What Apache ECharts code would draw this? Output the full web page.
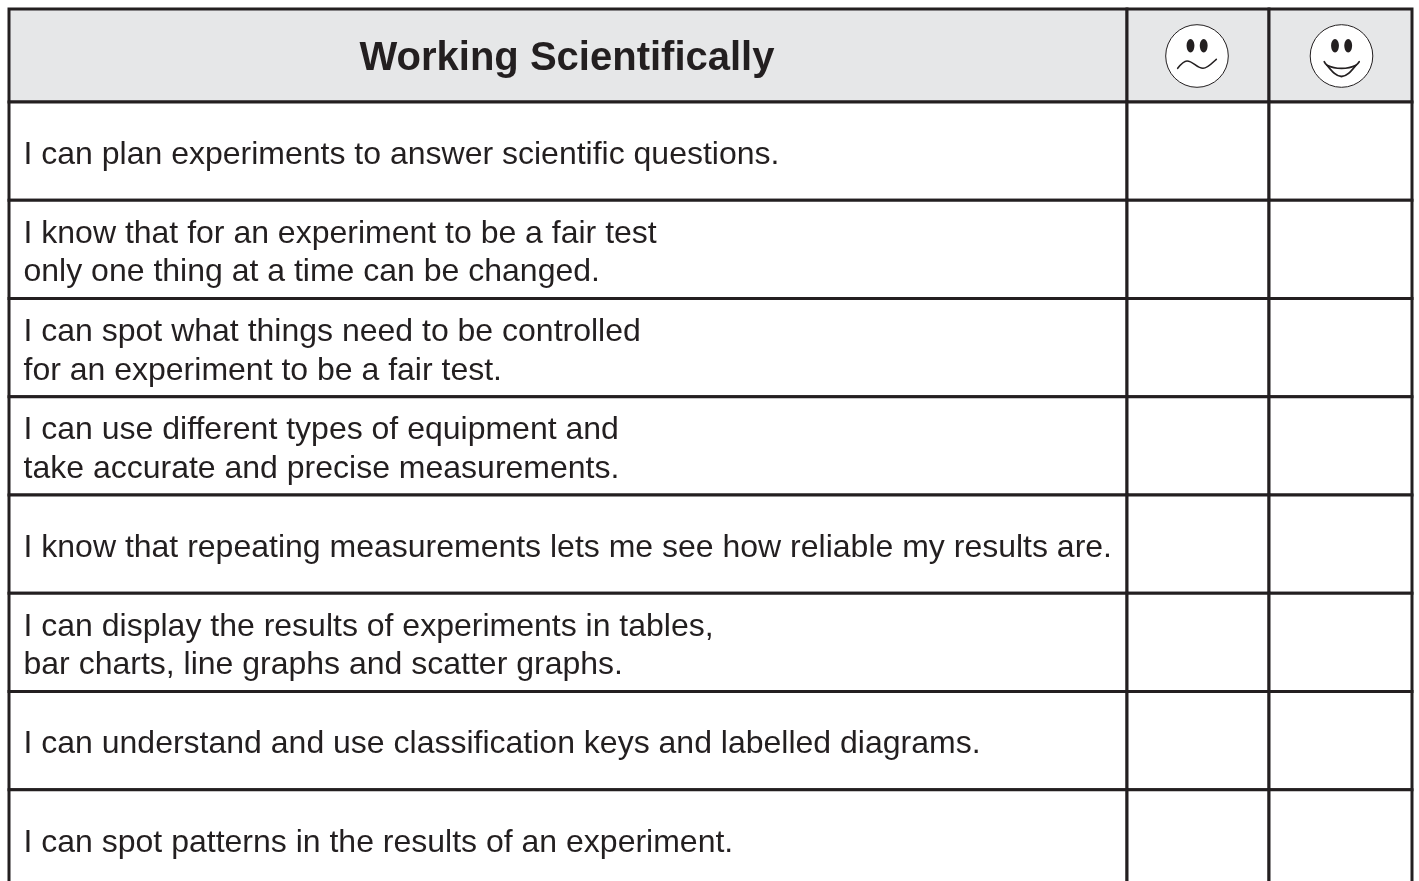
<!DOCTYPE html>
<html>
<head>
<meta charset="utf-8">
<title>Working Scientifically</title>
<style>
    html, body { margin: 0; padding: 0; background: #fff; }
    #main { width: 1419px; height: 881px; overflow: hidden; }
</style>
<script src="https://cdn.jsdelivr.net/npm/echarts@6/dist/echarts.min.js"></script>
</head>
<body>
<div id="main"></div>
<script>
// table content
const title = "Working Scientifically"
const statements = [
    "I can plan experiments to answer scientific questions.",
    "I know that for an experiment to be a fair test\nonly one thing at a time can be changed.",
    "I can spot what things need to be controlled\nfor an experiment to be a fair test.",
    "I can use different types of equipment and\ntake accurate and precise measurements.",
    "I know that repeating measurements lets me see how reliable my results are.",
    "I can display the results of experiments in tables,\nbar charts, line graphs and scatter graphs.",
    "I can understand and use classification keys and labelled diagrams.",
    "I can spot patterns in the results of an experiment."
]
const columns = ["statement", "sad", "happy"]

const FONT = '"Liberation Sans", Arial, sans-serif'
const INK = "#231f20"
const columnEnds = [1118, 1260, 1403]

const lineStyle = { stroke: INK, lineWidth: 3 }

function mouthStroke(pathData, lineWidth) {
    return {
        type: "path",
        shape: { pathData },
        style: { fill: null, stroke: INK, lineWidth, lineCap: "round" }
    }
}

function face(kind, cx, cy) {
    const ink = { fill: INK, stroke: null }
    const children = [
        { type: "circle", shape: { cx: 0, cy: 0, r: 31.3 }, style: { fill: "#fff", stroke: INK, lineWidth: 1 } },
        { type: "ellipse", shape: { cx: -6.5, cy: -10.3, rx: 3.9, ry: 6.7 }, style: ink },
        { type: "ellipse", shape: { cx: 6.7, cy: -10.3, rx: 3.9, ry: 6.7 }, style: ink }
    ]
    if (kind === "sad") {
        children.push(mouthStroke("M-19.3 12.3C-16 8 -13 5 -10 5C-4 5 0 12.3 6 12.3C11 12.3 15 7 19.3 3.3", 1.6))
    } else {
        children.push(mouthStroke("M-17.3 5.7C-16.5 7.5 -15.5 8.5 -14.5 9.2C-6 13.5 6 13.5 14.5 9.2C15.5 8.5 16.5 7.5 17.7 5.7", 1.7))
        children.push(mouthStroke("M-14.5 9.2C-9 16 -5 20.5 0 20.5C5 20.5 9 16 14.5 9.2", 1.8))
    }
    return { type: "group", x: cx, y: cy, children }
}

function cellBox(api) {
    const col = api.value(0)
    const row = api.value(1)
    const x0 = api.coord([col === 0 ? 0 : columnEnds[col - 1], row])[0]
    const x1 = api.coord([columnEnds[col], row])[0]
    const mid = api.coord([0, row])[1]
    const h = api.size([0, 1])[1]
    return { x: x0, y: mid - h / 2, width: x1 - x0, height: h }
}

function renderHeader(params, api) {
    const box = cellBox(api)
    const col = api.value(0)
    const children = [{ type: "rect", shape: box, style: { fill: "#e6e7e8", ...lineStyle } }]
    if (col === 0) {
        children.push({
            type: "text",
            style: {
                text: title,
                x: box.x + box.width / 2 - 1,
                y: box.y + box.height / 2 + 3,
                align: "center",
                verticalAlign: "middle",
                font: `bold 40px ${FONT}`,
                fill: INK
            }
        })
    } else {
        const nudge = col === 1 ? -1 : 1
        children.push(face(columns[col], box.x + box.width / 2 + nudge, box.y + box.height / 2 + 0.5))
    }
    return { type: "group", children }
}

function renderBody(params, api) {
    const box = cellBox(api)
    const col = api.value(0)
    const children = [{ type: "rect", shape: box, style: { fill: "#fff", ...lineStyle } }]
    if (col === 0) {
        children.push({
            type: "text",
            style: {
                text: statements[api.value(1)],
                x: box.x + 14.5,
                y: box.y + box.height / 2 + 4,
                align: "left",
                verticalAlign: "middle",
                font: `32px ${FONT}`,
                lineHeight: 38.5,
                fill: INK
            }
        })
    }
    return { type: "group", children }
}

const bodyCells = []
statements.forEach((s, row) => columns.forEach((c, col) => bodyCells.push([col, row])))

const hiddenAxis = { show: false }

const myChart = echarts.init(document.getElementById("main"), null, { renderer: "canvas" })
myChart.setOption({
    animation: false,
    backgroundColor: "#fff",
    grid: [
        { left: 9, top: 9, width: 1403, height: 93, outerBoundsMode: "none" },
        { left: 9, top: 102, width: 1403, height: 786, outerBoundsMode: "none" }
    ],
    xAxis: [
        { ...hiddenAxis, type: "value", gridIndex: 0, min: 0, max: 1403 },
        { ...hiddenAxis, type: "value", gridIndex: 1, min: 0, max: 1403 }
    ],
    yAxis: [
        { ...hiddenAxis, type: "category", gridIndex: 0, data: [title] },
        { ...hiddenAxis, type: "category", gridIndex: 1, inverse: true, data: statements }
    ],
    series: [
        {
            type: "custom",
            xAxisIndex: 0,
            yAxisIndex: 0,
            clip: false,
            renderItem: renderHeader,
            data: columns.map((c, col) => [col, 0])
        },
        {
            type: "custom",
            xAxisIndex: 1,
            yAxisIndex: 1,
            clip: false,
            renderItem: renderBody,
            data: bodyCells
        }
    ]
})
</script>
</body>
</html>
